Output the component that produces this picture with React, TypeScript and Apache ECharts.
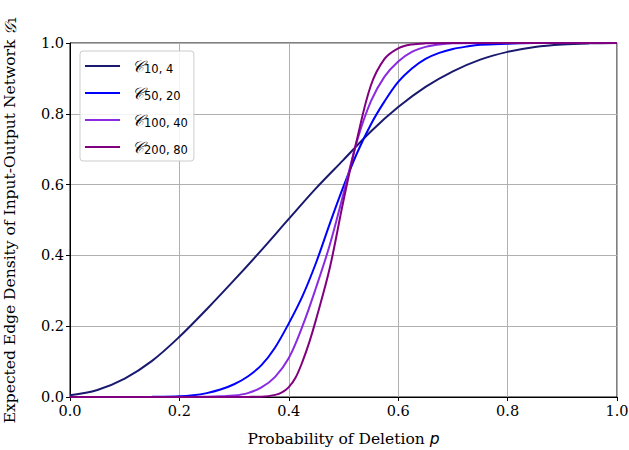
import React, { useEffect, useRef } from "react";
import * as echarts from "echarts";

const xTicks = [0, 0.2, 0.4, 0.6, 0.8, 1.0];
const subscripts = ["10, 4", "50, 20", "100, 40", "200, 80"];
const colors = ["#191970", "#0000ff", "#8a2be2", "#800080"];

const c10x = [0, 0.05, 0.1, 0.15, 0.2, 0.25, 0.3, 0.35, 0.4, 0.45, 0.5, 0.55, 0.6, 0.65, 0.7, 0.75, 0.8, 0.85, 0.9, 0.95, 1.0];
const c10y = [0.005, 0.02, 0.052, 0.102, 0.17, 0.248, 0.33, 0.415, 0.503, 0.59, 0.67, 0.75, 0.819, 0.876, 0.92, 0.953, 0.975, 0.989, 0.996, 0.999, 1.0];

const c50x = [0, 0.1, 0.15, 0.2, 0.225, 0.25, 0.275, 0.3, 0.325, 0.35, 0.375, 0.4, 0.425, 0.45, 0.475, 0.5, 0.525, 0.55, 0.575, 0.6, 0.625, 0.65, 0.675, 0.7, 0.725, 0.75, 0.8, 0.85, 1.0];
const c50y = [0, 0, 0.0004, 0.002, 0.005, 0.011, 0.021, 0.036, 0.058, 0.09, 0.14, 0.208, 0.285, 0.38, 0.49, 0.595, 0.69, 0.77, 0.835, 0.89, 0.928, 0.955, 0.972, 0.983, 0.99, 0.995, 0.998, 1.0, 1.0];

const c100x = [0, 0.2, 0.25, 0.275, 0.3, 0.325, 0.35, 0.375, 0.4, 0.425, 0.45, 0.475, 0.5, 0.525, 0.55, 0.575, 0.6, 0.625, 0.65, 0.675, 0.7, 0.75, 1.0];
const c100y = [0, 0, 0.001, 0.002, 0.004, 0.011, 0.027, 0.057, 0.11, 0.2, 0.31, 0.43, 0.575, 0.725, 0.835, 0.905, 0.948, 0.975, 0.989, 0.996, 0.999, 1.0, 1.0];

const c200x = [0, 0.3, 0.325, 0.35, 0.375, 0.3875, 0.4, 0.4125, 0.425, 0.4375, 0.45, 0.475, 0.5, 0.525, 0.55, 0.575, 0.6, 0.625, 0.65, 0.7, 1.0];
const c200y = [0, 0, 0.0003, 0.001, 0.006, 0.013, 0.028, 0.055, 0.1, 0.155, 0.22, 0.365, 0.555, 0.73, 0.88, 0.955, 0.985, 0.996, 0.999, 1.0, 1.0];

const seriesX = [c10x, c50x, c100x, c200x];
const seriesY = [c10y, c50y, c100y, c200y];

const SERIF = "'DejaVu Serif', serif";
const SANS = "'DejaVu Sans', sans-serif";

export default function App() {
  const ref = useRef<HTMLDivElement>(null);
  useEffect(() => {
    if (!ref.current) return;
    const chart = echarts.init(ref.current, null, { renderer: "svg" });
    const names = subscripts.map((s) => "𝒞" + s);
    chart.setOption({
      animation: false,
      backgroundColor: "#ffffff",
      grid: {
        left: 70,
        right: 12,
        top: 43,
        bottom: 53,
        containLabel: false,
        outerBoundsMode: "none",
        show: true,
        borderColor: "#000000",
        borderWidth: 1,
        backgroundColor: "transparent",
      },
      legend: {
        orient: "vertical",
        left: 80,
        top: 51,
        padding: [5, 6, 5, 5],
        icon: "rect",
        itemWidth: 35,
        itemHeight: 2,
        itemGap: 8,
        backgroundColor: "rgba(255,255,255,0.85)",
        borderColor: "#cccccc",
        borderWidth: 1,
        borderRadius: 3,
        data: names,
        formatter: (name: string) => {
          const i = names.indexOf(name);
          return "{c|𝒞}{s|" + subscripts[i] + "}";
        },
        textStyle: {
          padding: [0, 0, 0, 7],
          rich: {
            c: { fontFamily: SERIF, fontSize: 16, fontStyle: "italic", color: "#000", lineHeight: 18 },
            s: { fontFamily: SANS, fontSize: 11.5, color: "#000", verticalAlign: "bottom", padding: [7, 0, 0, 0], lineHeight: 18 },
          },
        },
      },
      xAxis: {
        type: "value",
        min: 0,
        max: 1,
        interval: 0.2,
        name: "{a|Probability of Deletion }{b|p}",
        nameLocation: "middle",
        nameGap: 34,
        nameTextStyle: {
          rich: {
            a: { fontFamily: SERIF, fontSize: 15.5, color: "#000" },
            b: { fontFamily: SANS, fontSize: 15.5, fontStyle: "italic", color: "#000" },
          },
        },
        axisLine: { show: true, onZero: false, lineStyle: { color: "#000", width: 1 } },
        axisTick: { show: true, inside: false, length: 4, lineStyle: { color: "#000", width: 1 } },
        axisLabel: {
          fontFamily: SERIF,
          fontSize: 14.5,
          color: "#000",
          margin: 6,
          formatter: (v: number) => v.toFixed(1),
        },
        splitLine: { show: true, lineStyle: { color: "#b0b0b0", width: 1 } },
      },
      yAxis: {
        type: "value",
        min: 0,
        max: 1,
        interval: 0.2,
        name: "{a|Expected Edge Density of Input-Output Network }{g|𝒢}{s|1}",
        nameLocation: "middle",
        nameGap: 52,
        nameRotate: 90,
        nameTextStyle: {
          rich: {
            a: { fontFamily: SERIF, fontSize: 15.5, color: "#000" },
            g: { fontFamily: SERIF, fontSize: 16, fontStyle: "italic", color: "#000" },
            s: { fontFamily: SANS, fontSize: 11, color: "#000", verticalAlign: "bottom", padding: [5, 0, 0, 0] },
          },
        },
        axisLine: { show: true, onZero: false, lineStyle: { color: "#000", width: 1 } },
        axisTick: { show: true, inside: false, length: 4, lineStyle: { color: "#000", width: 1 } },
        axisLabel: {
          fontFamily: SERIF,
          fontSize: 14.5,
          color: "#000",
          margin: 6,
          formatter: (v: number) => v.toFixed(1),
        },
        splitLine: { show: true, lineStyle: { color: "#b0b0b0", width: 1 } },
      },
      series: names.map((n, i) => ({
        name: n,
        type: "line",
        symbol: "none",
        smooth: 0.35,
        clip: true,
        color: colors[i],
        itemStyle: { color: colors[i] },
        lineStyle: { color: colors[i], width: 2 },
        data: seriesX[i].map((x, j) => [x, seriesY[i][j]]),
      })),
    });
    return () => chart.dispose();
  }, []);
  return <div ref={ref} style={{ width: 629, height: 450, position: "absolute", left: 0, top: 0 }} />;
}
